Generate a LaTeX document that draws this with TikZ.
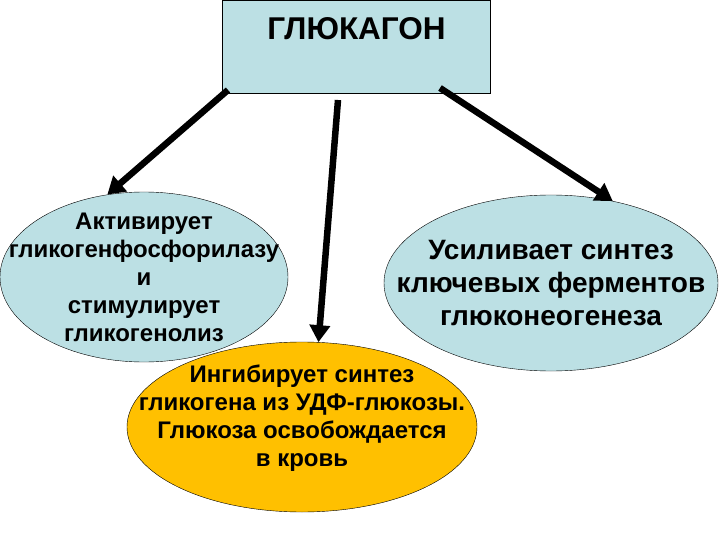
\documentclass[tikz,border=0pt]{standalone}
\usepackage{fontspec}
\setmainfont{Liberation Sans}
\usetikzlibrary{shapes.geometric,arrows.meta}
\definecolor{paleblue}{RGB}{188,224,228}
\definecolor{amber}{RGB}{255,192,0}
\tikzset{
  oval/.style={ellipse,draw,thin,inner sep=0pt},
  ovaltext/.style={align=center,font=\bfseries\fontsize{24}{28}\selectfont},
  bigarrow/.style={line width=6.5pt,-{Triangle[length=17pt,width=20pt]}}
}
\begin{document}
\begin{tikzpicture}[x=1pt,y=-1pt]
   \useasboundingbox (0,0) rectangle (720,540);
   \node[draw,fill=paleblue,inner sep=0pt,minimum width=268pt,text height=40pt,text depth=53pt,
     font=\bfseries\fontsize{31.5}{36}\selectfont] (glucagon) at (356.5,46.5) {ГЛЮКАГОН};
   \node[oval,fill=paleblue,minimum width=288pt,minimum height=170pt] (activ) at (144,277) {};
   \node[oval,fill=paleblue,minimum width=334pt,minimum height=176pt] (enhance) at (551,283) {};
   \node[oval,fill=amber,minimum width=350pt,minimum height=170pt] (inhib) at (302,427) {};
   \node[ovaltext] at (activ) {Активирует\\гликогенфосфорилазу\\и\\стимулирует\\гликогенолиз};
   \node[ovaltext,font=\bfseries\fontsize{28}{33}\selectfont] at (enhance)
     {Усиливает синтез\\ключевых ферментов\\глюконеогенеза};
   \node[ovaltext,yshift=9pt] at (inhib)
     {Ингибирует синтез\\гликогена из УДФ-глюкозы.\\Глюкоза освобождается\\в кровь};
   % arrows from the box
   \coordinate (fromL) at (228,90);
   \coordinate (fromM) at (338,100);
   \coordinate (fromR) at (440,88);
   \draw[bigarrow] (fromL) -- (activ.114);
   \draw[bigarrow] (fromM) -- (inhib.79);
   \draw[bigarrow] (fromR) -- (enhance.53);
\end{tikzpicture}
\end{document}
